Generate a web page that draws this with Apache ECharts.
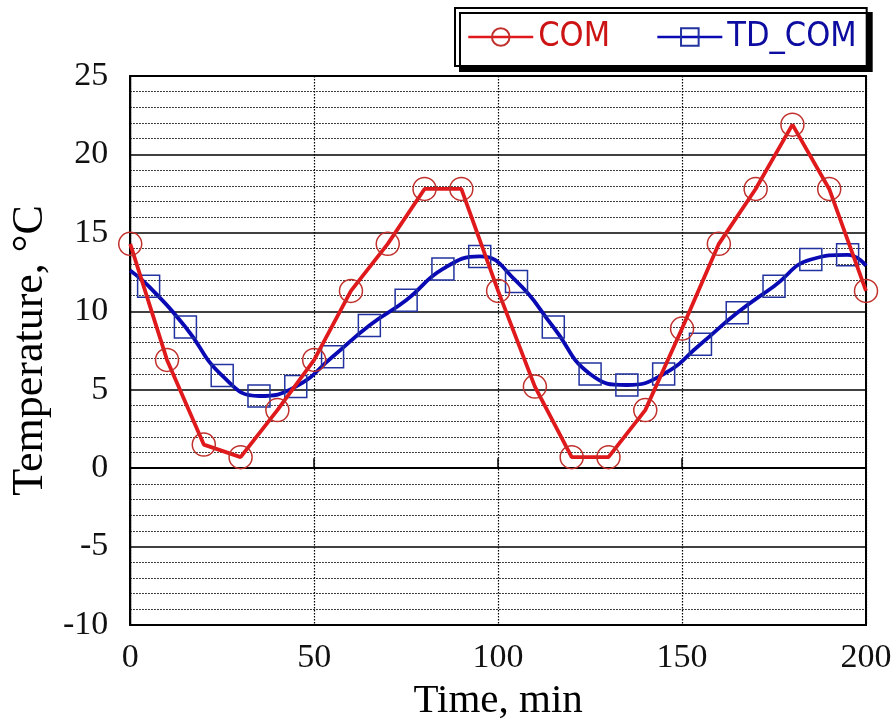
<!DOCTYPE html>
<html>
<head>
<meta charset="utf-8">
<script src="https://cdn.jsdelivr.net/npm/echarts@6/dist/echarts.min.js"></script>
<style>
  html, body { margin: 0; padding: 0; background: #fff; }
  #chart { width: 896px; height: 727px; }
</style>
</head>
<body>
<div id="chart"></div>
<script>
// ---- data ----
var comTime = [0, 10, 20, 30, 40, 50, 60, 70, 80, 90, 100, 110, 120, 130, 140, 150, 160, 170, 180, 190, 200];
var comTemp = [14.3, 6.9, 1.5, 0.7, 3.7, 6.9, 11.3, 14.3, 17.8, 17.8, 11.3, 5.2, 0.7, 0.7, 3.7, 8.9, 14.3, 17.8, 21.9, 17.8, 11.3];

var tdTime = [5, 15, 25, 35, 45, 55, 65, 75, 85, 95, 105, 115, 125, 135, 145, 155, 165, 175, 185, 195];
var tdTemp = [11.6, 9.0, 5.9, 4.6, 5.2, 7.1, 9.1, 10.7, 12.7, 13.5, 11.9, 9.0, 6.0, 5.3, 6.0, 7.9, 9.9, 11.6, 13.3, 13.6];
var tdStart = [0, 12.6];   // curve start (no marker)
var tdEnd = [200, 12.9];   // curve end (no marker)

var xTicks = [0, 50, 100, 150, 200];
var yTicks = [-10, -5, 0, 5, 10, 15, 20, 25];

var seriesNames = ['COM', 'TD_COM'];

// ---- build series data ----
var comData = comTime.map(function (t, i) { return [t, comTemp[i]]; });
var tdData = [{ value: tdStart, symbol: 'none' }];
tdTime.forEach(function (t, i) { tdData.push([t, tdTemp[i]]); });
tdData.push({ value: tdEnd, symbol: 'none' });

var serif = '"Liberation Serif", "Times New Roman", serif';
var narrow = '"Liberation Sans Narrow", "DejaVu Sans Condensed", "Liberation Sans", sans-serif';
var dotted = [1.5, 1.5];

var chart = echarts.init(document.getElementById('chart'), null, { renderer: 'canvas' });
chart.setOption({
  backgroundColor: '#fff',
  animation: false,
  legend: {
    left: 455,
    top: 8,
    orient: 'horizontal',
    padding: [12, 10, 12, 12],
    itemWidth: 65,
    itemHeight: 22,
    itemGap: 46,
    itemTextGap: 8,
    borderColor: '#000',
    borderWidth: 2,
    borderRadius: 0,
    backgroundColor: '#fff',
    shadowColor: '#000',
    shadowBlur: 0,
    shadowOffsetX: 5,
    shadowOffsetY: 5,
    lineStyle: { width: 2.5 },
    textStyle: { fontFamily: narrow, fontSize: 34 },
    data: [
      { name: seriesNames[0], textStyle: { color: '#cc1414' } },
      { name: seriesNames[1], textStyle: { color: '#0c0ca0' } }
    ]
  },
  grid: {
    left: 130,
    right: 30,
    top: 76,
    bottom: 99,
    show: true,
    borderColor: '#000',
    borderWidth: 2,
    backgroundColor: 'transparent'
  },
  xAxis: {
    type: 'value',
    min: xTicks[0],
    max: xTicks[xTicks.length - 1],
    interval: 50,
    name: 'Time, min',
    nameLocation: 'middle',
    nameGap: 56,
    nameTextStyle: { fontFamily: serif, fontSize: 41, color: '#000' },
    axisLine: { show: true, lineStyle: { color: '#000', width: 2 } },
    axisTick: { show: true, inside: true, length: 10, lineStyle: { color: '#000', width: 1.5 } },
    axisLabel: { fontFamily: serif, fontSize: 34, color: '#111', margin: 16 },
    splitLine: { show: true, lineStyle: { color: '#000', width: 1.2, type: dotted } }
  },
  yAxis: {
    type: 'value',
    min: yTicks[0],
    max: yTicks[yTicks.length - 1],
    interval: 5,
    name: 'Temperature, °C',
    nameLocation: 'middle',
    nameGap: 64,
    nameRotate: 90,
    nameTextStyle: { fontFamily: serif, fontSize: 44, color: '#000' },
    axisLine: { show: true, lineStyle: { color: '#000', width: 2 } },
    axisTick: { show: false },
    axisLabel: { fontFamily: serif, fontSize: 34, color: '#111', margin: 22 },
    splitLine: { show: true, lineStyle: { color: '#000', width: 1.6, type: 'solid' } },
    minorTick: { show: false, splitNumber: 5 },
    minorSplitLine: { show: true, lineStyle: { color: '#000', width: 1.2, type: dotted } }
  },
  series: [
    {
      name: seriesNames[1],
      type: 'line',
      data: tdData,
      smooth: 0.5,
      symbol: 'rect',
      symbolSize: 22,
      showAllSymbol: true,
      lineStyle: { color: '#0a0ab4', width: 3.8 },
      itemStyle: { color: 'rgba(0,0,0,0)', borderColor: '#2233a0', borderWidth: 1.5 },
      z: 2
    },
    {
      name: seriesNames[0],
      type: 'line',
      data: comData,
      smooth: false,
      symbol: 'circle',
      symbolSize: 23,
      showAllSymbol: true,
      lineStyle: { color: '#e01a1c', width: 3.8 },
      itemStyle: { color: 'rgba(0,0,0,0)', borderColor: '#c0302c', borderWidth: 1.5 },
      z: 3
    }
  ]
});
</script>
</body>
</html>
